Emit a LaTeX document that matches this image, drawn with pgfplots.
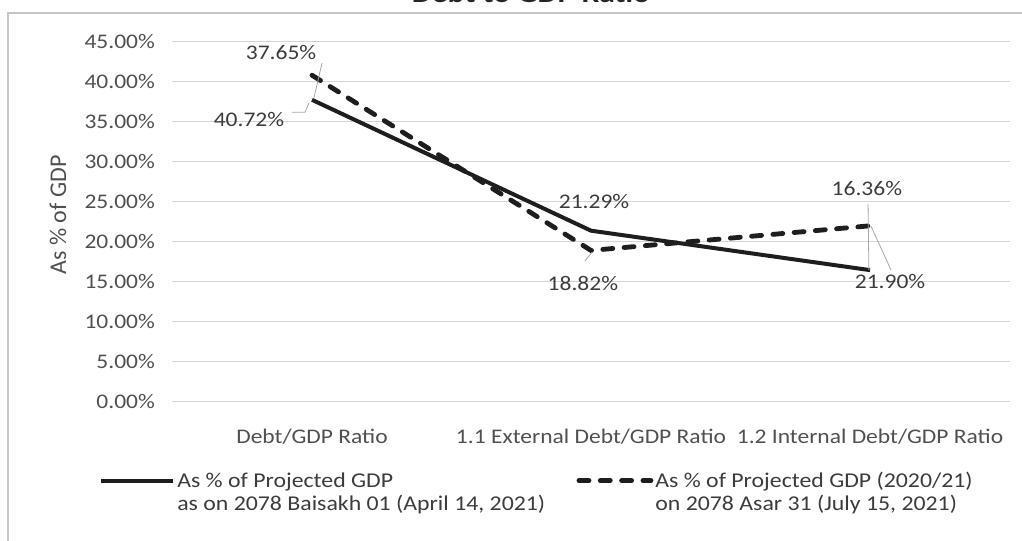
\documentclass[border=0pt]{standalone}
\usepackage{fontspec}
\setmainfont[FakeStretch=1.13]{Carlito}
\newfontfamily\plainfont{Carlito}
\usepackage{pgfplots}
\pgfplotsset{compat=1.18}
\definecolor{txt}{HTML}{505050}
\definecolor{lbl}{HTML}{3C3C3C}
\definecolor{gridc}{HTML}{D4D4D4}
\definecolor{ln}{HTML}{1E1E1E}
\begin{document}
\begin{tikzpicture}[x=0.75pt,y=0.75pt]
\useasboundingbox (-172.5,-140) rectangle (849.5,401);
\draw[gray!45, line width=1] (8-172.5,401-13) rectangle (1040-172.5,401-560);
\node[anchor=base, font=\bfseries\fontsize{21}{24}\selectfont, text=black!85] at (531-172.5,401-3) {Debt to GDP Ratio};
\begin{axis}[
  at={(0,0)}, anchor=south west,
  scale only axis, width=627.75pt, height=270pt,
  xmin=-0.5, xmax=2.5, ymin=0, ymax=45,
  xtick={0,1,2},
  xticklabels={Debt/GDP Ratio, 1.1 External Debt/GDP Ratio, 1.2 Internal Debt/GDP Ratio},
  ytick={0,5,...,45},
  yticklabel={\pgfmathprintnumber[fixed,fixed zerofill,precision=2]{\tick}\%},
  /pgf/number format/assume math mode=true,
  axis line style={draw=none},
  major tick length=0pt,
  ymajorgrids, grid style={gridc, line width=0.6pt},
  ticklabel style={font=\fontsize{15.6}{18}\selectfont, text=txt},
  yticklabel style={anchor=east, inner sep=0pt, xshift=-13pt},
  xticklabel style={anchor=north, inner sep=0pt, yshift=-21pt},
  ylabel={As \% of GDP},
  every axis y label/.style={at={(axis description cs:-0.1368,0.517)}, rotate=90, anchor=center, font=\plainfont\fontsize{18}{20}\selectfont, text=txt},
  clip=false,
  legend columns=2,
  legend cell align=left,
  legend image code/.code={\draw[#1] (0pt,0pt) -- (54pt,0pt);},
  legend style={at={(axis description cs:-0.0926,-0.181)}, anchor=north west, draw=none, fill=none,
    font=\fontsize{15.8}{17}\selectfont, text=lbl,
    nodes={text height=13.5pt, text depth=3.8pt, inner ysep=0pt, inner xsep=1.5pt},
    /tikz/every even column/.append style={column sep=22pt}},
]
\addplot[ln, line width=3pt, line join=round] coordinates {(0,37.65) (1,21.29) (2,16.36)};
\addlegendentry{As \% of Projected GDP}
\addplot[ln, line width=3.6pt, line cap=round, dash pattern=on 7.5pt off 8.5pt] coordinates {(0,40.72) (1,18.82) (2,21.90)};
\addlegendentry{As \% of Projected GDP (2020/21)}
\addlegendimage{empty legend}
\addlegendentry{as on 2078 Baisakh 01 (April 14, 2021)}
\addlegendimage{empty legend}
\addlegendentry{on 2078 Asar 31 (July 15, 2021)}
% leader lines
\draw[gray!70, line width=0.6pt] (axis cs:0.036,42.25) -- (axis cs:0.007,37.9);
\draw[gray!70, line width=0.6pt] (axis cs:-0.072,36.1) -- (axis cs:-0.025,36.1) -- (axis cs:-0.011,37.25);
\draw[gray!70, line width=0.6pt] (axis cs:0.978,17.5) -- (axis cs:1.004,18.6);
\draw[gray!70, line width=0.6pt] (axis cs:1.993,24.6) -- (axis cs:1.996,16.4);
\draw[gray!70, line width=0.6pt] (axis cs:2.003,21.9) -- (axis cs:2.075,16.4);
% data labels
\begin{scope}[every node/.style={font=\fontsize{15.6}{18}\selectfont, text=lbl, anchor=center}]
\node at (axis cs:-0.111,43.6) {37.65\%};
\node at (axis cs:-0.226,35.25) {40.72\%};
\node at (axis cs:1.011,24.9) {21.29\%};
\node at (axis cs:0.971,14.75) {18.82\%};
\node at (axis cs:1.989,26.6) {16.36\%};
\node at (axis cs:2.072,14.9) {21.90\%};
\end{scope}
\end{axis}
\end{tikzpicture}
\end{document}
